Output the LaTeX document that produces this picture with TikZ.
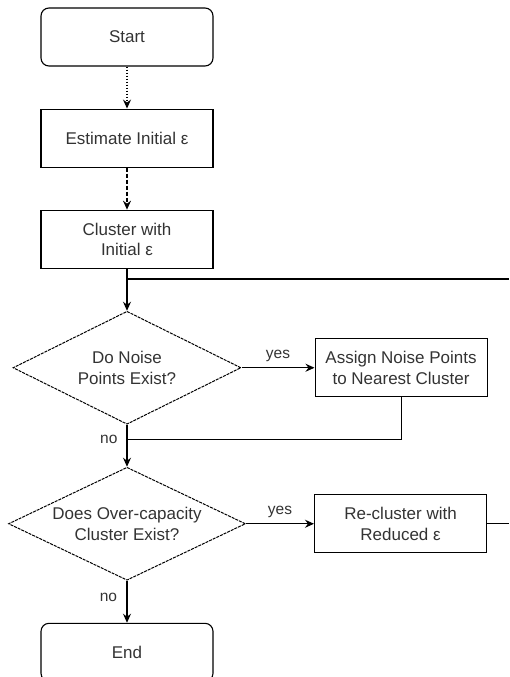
\documentclass[tikz,border=0pt]{standalone}
\usepackage{fontspec}
\setmainfont{Liberation Sans}
\usetikzlibrary{positioning, arrows.meta, shapes.geometric}
\definecolor{lineColor}{RGB}{0, 0, 0}
\definecolor{textColor}{RGB}{51, 51, 51}
\tikzset{
    flow_term/.style={
        rectangle,
        rounded corners=8pt,
        draw=lineColor,
        line width=1.1pt,
        text=textColor,
        minimum width=172pt,
        minimum height=58pt,
        font=\fontsize{17pt}{20.5pt}\selectfont
    },
    flow_step/.style={
        flow_term,
        rounded corners=0pt,
        align=center
    },
    flow_check/.style={
        diamond,
        aspect=2,
        draw=lineColor,
        line width=1pt,
        dash pattern=on 3pt off 1pt,
        text=textColor,
        inner sep=0pt,
        align=center,
        minimum width=228pt,
        minimum height=113pt,
        font=\fontsize{17pt}{20.5pt}\selectfont
    },
    flow_edge/.style={
        -{Stealth[length=9pt, width=8pt, inset=3pt]},
        line width=1.1pt,
        draw=lineColor
    },
    flow_line/.style={
        line width=1.1pt,
        draw=lineColor
    },
    flow_label/.style={
        text=textColor,
        font=\fontsize{15.5pt}{18pt}\selectfont
    }
}
\begin{document}
\begin{tikzpicture}[x=1pt, y=1pt, node distance=42pt]
    \useasboundingbox (0,0) rectangle (509,-677);

    \node[flow_term] (start) at (127,-37) {Start};
    \node[flow_step, below=of start] (est) {Estimate Initial ε};
    \node[flow_step, below=of est] (clus) {Cluster with\\Initial ε};
    \node[flow_check, below=of clus] (noise) {Do Noise\\Points Exist?};
    \node[flow_step, right=73pt of noise] (assign) {Assign Noise Points\\to Nearest Cluster};
    \node[flow_check, below=of noise, minimum width=237pt] (over) {Does Over-capacity\\Cluster Exist?};
    \node[flow_step, right=68pt of over] (recl) {Re-cluster with\\Reduced ε};
    \node[flow_term, below=of over] (end) {End};

    % loose ends running off to the right
    \coordinate (topRight) at (509,-279);
    \coordinate (rimEdge) at (509,0);
    \coordinate (botRight) at (rimEdge |- recl.east);
    \coordinate[below=15pt of noise.south] (merge);

    \draw[flow_edge, dash pattern=on 1.5pt off 1.5pt] (start) -- (est);
    \draw[flow_edge, dash pattern=on 4pt off 2pt] (est) -- (clus);
    \draw[flow_edge] (clus) -- (noise);
    \draw[flow_line] (clus.south |- topRight) -- (topRight);

    \draw[flow_edge] (noise.east) -- node[flow_label, above=2pt] {yes} (assign.west);
    \draw[flow_line] (assign.south) |- (merge);
    \draw[flow_edge] (noise.south) -- (over.north);
    \node[flow_label, left=6pt of merge] (noLbl1) {no};

    \draw[flow_edge] (over.east) -- node[flow_label, above=2pt] {yes} (recl.west);
    \draw[flow_line] (recl.east) -- (botRight);
    \draw[flow_edge] (over.south) -- node[flow_label, left=6pt, pos=0.4] {no} (end.north);
\end{tikzpicture}
\end{document}
